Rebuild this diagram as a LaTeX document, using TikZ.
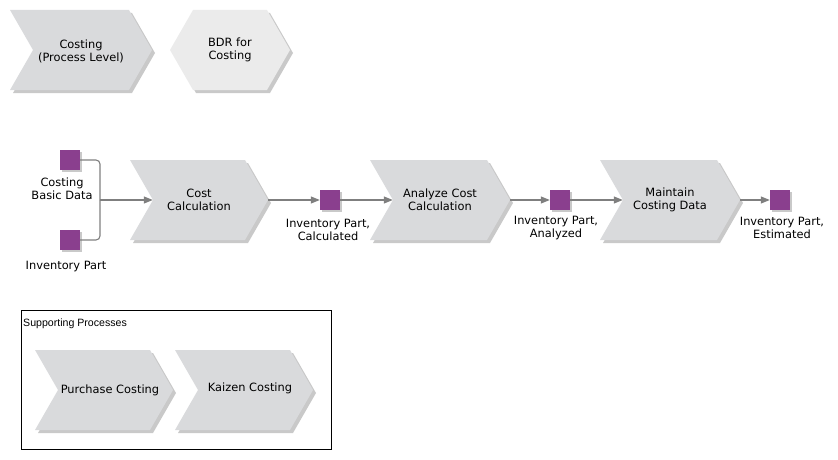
\documentclass[tikz,border=0pt]{standalone}
\usepackage{fontspec}
\setmainfont{DejaVu Sans}
\newfontfamily\arialf{Liberation Sans}
\usetikzlibrary{arrows.meta}
\definecolor{chevc}{HTML}{D9DADC}
\definecolor{hexc}{HTML}{EBEBEB}
\definecolor{sqc}{HTML}{8A3F8E}
\definecolor{lnc}{HTML}{7F7F7F}
\definecolor{shdc}{HTML}{9C9C9C}
\tikzset{
  chevfill/.style={fill=chevc},
  hexfill/.style={fill=hexc},
  shadowfill/.style={fill=shdc, opacity=0.55},
  shapebox/.style={draw=none, inner sep=0pt, minimum height=80pt},
  proctext/.style={align=center, inner sep=0pt, font=\fontsize{11.4}{13}\selectfont},
  objlabel/.style={align=center, inner sep=0pt, font=\fontsize{11.4}{13}\selectfont},
  dataobj/.style={fill=sqc, draw=none, minimum size=20pt, inner sep=0pt},
  conn/.style={draw=lnc, line width=1.1pt},
  flow/.style={conn, -{Triangle[length=9pt,width=7pt]}},
}
\newcommand\chevron[6]{%
  \fill[shadowfill] (#2+3,#3+3) -- (#2+3+#4-23,#3+3) -- (#2+3+#4,#3+43) -- (#2+3+#4-23,#3+83) -- (#2+3,#3+83) -- (#2+26,#3+43) -- cycle;
  \fill[chevfill] (#2,#3) -- (#2+#4-23,#3) -- (#2+#4,#3+40) -- (#2+#4-23,#3+80) -- (#2,#3+80) -- (#2+23,#3+40) -- cycle;
  \node[shapebox, minimum width=#4pt] (#1) at (#2+#4/2,#3+40) {};
  \node[proctext] (#1-t) at ([shift={#6}]#1.center) {#5};
}
\newcommand\dobj[3]{%
  \fill[shadowfill] (#2-8,#3-8) rectangle (#2+12,#3+12);
  \node[dataobj] (#1) at (#2,#3) {};
}
\begin{document}
\begin{tikzpicture}[x=1pt,y=-1pt]
\useasboundingbox (0,0) rectangle (838,460);
% top row
\chevron{costing}{10}{10}{142}{Costing\\(Process Level)}{(0,1)}
\fill[shadowfill] (173,53) -- (196,13) -- (270,13) -- (293,53) -- (270,93) -- (196,93) -- cycle;
\fill[hexfill] (170,50) -- (193,10) -- (267,10) -- (290,50) -- (267,90) -- (193,90) -- cycle;
\node[proctext] (bdr) at (230,50) {BDR for\\Costing};
% process row
\chevron{costcalc}{130}{160}{138}{Cost\\Calculation}{(0,0)}
\chevron{analyze}{370}{160}{140}{Analyze Cost\\Calculation}{(0,0)}
\chevron{maintain}{600}{160}{140}{Maintain\\Costing Data}{(0,0)}
\dobj{basic}{70}{160}
\dobj{invpart}{70}{240}
\dobj{calc}{330}{200}
\dobj{anal}{560}{200}
\dobj{est}{780}{200}
\node[objlabel] (basic-l) at (62,189) {Costing\\Basic Data};
\node[objlabel] (invpart-l) at (66,267) {Inventory Part};
\node[objlabel] (calc-l) at (328,230) {Inventory Part,\\Calculated};
\node[objlabel] (anal-l) at (556,228) {Inventory Part,\\Analyzed};
\node[objlabel] (est-l) at (782,228) {Inventory Part,\\Estimated};
\coordinate (br) at (100,200);
\draw[conn, rounded corners=4pt] (basic.east) -| (br);
\draw[conn, rounded corners=4pt] (invpart.east) -| (br);
\draw[flow] (br) -- ([xshift=23pt]costcalc.west);
\draw[flow] (costcalc.east) -- (calc.west);
\draw[flow] (calc.east) -- ([xshift=23pt]analyze.west);
\draw[flow] (analyze.east) -- (anal.west);
\draw[flow] (anal.east) -- ([xshift=23pt]maintain.west);
\draw[flow] (maintain.east) -- (est.west);
% supporting processes
\node[draw=black, line width=0.8pt, minimum width=310pt, minimum height=139pt, inner sep=0pt] (frame) at (176,379.5) {};
\node[anchor=west, inner sep=0pt, font=\arialf\fontsize{10.6}{12}\selectfont] (frame-t) at (23,324) {Supporting Processes};
\chevron{purchase}{35}{350}{138}{Purchase Costing}{(6,0)}
\chevron{kaizen}{175}{350}{138}{Kaizen Costing}{(6,-2)}
\end{tikzpicture}
\end{document}
